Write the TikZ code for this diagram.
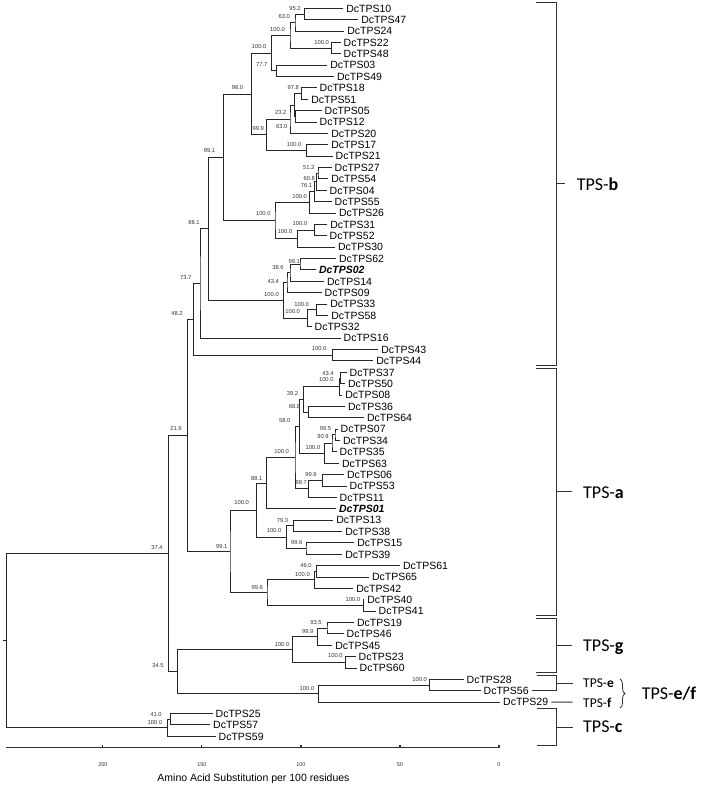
\documentclass[tikz,border=0pt]{standalone}
\usepackage{fontspec}
\setmainfont{Liberation Sans}
\newfontfamily\cladefont{Carlito}
\usetikzlibrary{decorations.pathreplacing}

\begin{document}
\begin{tikzpicture}[x=1pt, y=-1pt,
    branch/.style={line width=0.9pt, draw=black!85},
    bracket/.style={line width=0.9pt, draw=black!80},
    axisline/.style={line width=1.1pt, draw=black!80},
    leaf/.style={anchor=west, inner xsep=3pt, inner ysep=0pt, text height=7.5pt, text depth=0pt,
        font=\fontsize{10.5}{12}\selectfont},
    keyleaf/.style={leaf, font=\fontsize{10.5}{12}\selectfont\bfseries\itshape},
    boot/.style={inner sep=0pt, text height=4.2pt, text depth=0pt, text=black!80,
        font=\fontsize{5.8}{7}\selectfont},
    ticklabel/.style={inner sep=0pt, text=black!80, font=\fontsize{5.5}{6}\selectfont},
    clade/.style={anchor=west, inner sep=0pt, text height=11.6pt, text depth=0pt,
        font=\cladefont\fontsize{18}{20}\selectfont},
    subclade/.style={clade, text height=8.7pt, font=\cladefont\fontsize{13.5}{15}\selectfont}]

    \useasboundingbox (0,0) rectangle (708,787);

    % 1. Leaves (name / row / tip)
    \foreach \nm/\rw/\tp in {10/1/343.2, 47/2/358.2, 24/3/344.2, 22/4/340.5, 48/5/340.5,
        03/6/327.2, 49/7/333.8, 18/8/316.5, 51/9/308.2, 05/10/321.5, 12/11/316.5,
        20/12/328.2, 17/13/328.2, 21/14/332.5, 27/15/331.5, 54/16/328.2, 04/17/326.5,
        55/18/331.5, 26/19/335.8, 31/20/327.2, 52/21/326.5, 30/22/334.8, 62/23/335.8,
        14/25/323.8, 09/26/321.5, 33/27/327.2, 58/28/328.2, 32/29/311.5, 16/30/340.5,
        43/31/378.2, 44/32/373.2, 37/33/346.5, 50/34/344.8, 08/35/342.2, 36/36/344.8,
        64/37/363.8, 07/38/337.5, 34/39/339.8, 35/40/336.5, 63/41/338.8, 06/42/343.8,
        53/43/346.5, 11/44/336.5, 13/46/333.2, 38/47/342.2, 15/48/354.2, 39/49/342.2,
        61/50/399.8, 65/51/368.8, 42/52/353.2, 40/53/364.2, 41/54/375.5, 19/55/353.8,
        46/56/343.5, 45/57/332.2, 23/58/355.5, 60/59/356.5, 28/60/463.5, 56/61/480.5,
        29/62/500, 25/63/212.5, 57/64/210, 59/65/215.5}
        \node[leaf] (t\nm) at (\tp, {8.3+(\rw-1)*11.375}) {DcTPS\nm};
    \node[keyleaf] (t02) at (315.8, 269.93) {DcTPS02};
    \node[keyleaf] (t01) at (335.8, 508.8) {DcTPS01};

    % 2. Internal nodes
    % TPS-b
    \coordinate (a1) at (304.3,13.99);
    \coordinate (a2) at (295,22.52);
    \coordinate (a3) at (331.7,48.12);
    \coordinate (a4) at (290,35.31);
    \coordinate (a5) at (276.7,70.87);
    \coordinate (a6) at (271.7,53.09);
    \coordinate (b1) at (301.7,93.62);
    \coordinate (b2) at (295.5,116.37);
    \coordinate (b3) at (294.3,104.99);
    \coordinate (b4) at (290,119.21);
    \coordinate (b5) at (306.7,150.49);
    \coordinate (b6) at (266.5,134.85);
    \coordinate (p1) at (251.7,93.97);
    \coordinate (c1) at (318,173.24);
    \coordinate (c2) at (316.3,181.77);
    \coordinate (c3) at (314.7,191.72);
    \coordinate (c4) at (309.3,202.39);
    \coordinate (c5) at (314.3,230.12);
    \coordinate (c6) at (297.3,238.64);
    \coordinate (c7) at (275,220.52);
    \coordinate (p2) at (223.3,157.24);
    \coordinate (d1) at (300,264.24);
    \coordinate (d2) at (290,272.77);
    \coordinate (d3) at (287,282.72);
    \coordinate (d4) at (316.3,309.74);
    \coordinate (d5) at (307.7,318.27);
    \coordinate (d6) at (283.3,300.49);
    \coordinate (p3) at (208.3,228.87);
    \coordinate (p4) at (200,283.53);
    \coordinate (e1) at (332.7,355.24);
    \coordinate (p5) at (193.3,319.38);
    % TPS-a
    \coordinate (f1) at (340.5,377.99);
    \coordinate (f2) at (339.5,386.52);
    \coordinate (f3) at (308.3,412.12);
    \coordinate (f4) at (303.3,399.31);
    \coordinate (f5) at (335,434.87);
    \coordinate (f6) at (332,443.39);
    \coordinate (f7) at (324.5,453.35);
    \coordinate (f8) at (299.5,426.33);
    \coordinate (f9) at (322.7,480.37);
    \coordinate (f10) at (308.3,488.89);
    \coordinate (f11) at (295,457.61);
    \coordinate (f12) at (266.7,483.21);
    \coordinate (g1) at (293.3,525.87);
    \coordinate (g2) at (306,548.62);
    \coordinate (g3) at (286.5,537.24);
    \coordinate (g4) at (256.7,510.22);
    \coordinate (h1) at (316.7,571.37);
    \coordinate (h2) at (314.3,579.89);
    \coordinate (h3) at (363.3,605.49);
    \coordinate (h4) at (267,592.69);
    \coordinate (g5) at (230,551.46);
    \coordinate (r2) at (187.3,435.42);
    % TPS-g, TPS-e/f
    \coordinate (k1) at (327,628.24);
    \coordinate (k2) at (317.1,636.77);
    \coordinate (k3) at (345.7,662.37);
    \coordinate (k4) at (292.9,649.56);
    \coordinate (m1) at (429.6,685.12);
    \coordinate (m2) at (318.9,693.64);
    \coordinate (r3) at (177.9,671.61);
    \coordinate (r1) at (168.6,553.51);
    % TPS-c and root
    \coordinate (q1) at (170.7,719.24);
    \coordinate (q2) at (167.9,727.77);
    \coordinate (root) at (6.4,640.63);

    % 3. Branches
    \draw[branch] (t10) -| (a1) |- (t47);
    \draw[branch] (a1) -| (a2) |- (t24);
    \draw[branch] (t22) -| (a3) |- (t48);
    \draw[branch] (a2) -| (a4) |- (a3);
    \draw[branch] (t03) -| (a5) |- (t49);
    \draw[branch] (a4) -| (a6) |- (a5);
    \draw[branch] (t18) -| (b1) |- (t51);
    \draw[branch] (t05) -| (b2) |- (t12);
    \draw[branch] (b1) -| (b3) |- (b2);
    \draw[branch] (b3) -| (b4) |- (t20);
    \draw[branch] (t17) -| (b5) |- (t21);
    \draw[branch] (b4) -| (b6) |- (b5);
    \draw[branch] (a6) -| (p1) |- (b6);
    \draw[branch] (t27) -| (c1) |- (t54);
    \draw[branch] (c1) -| (c2) |- (t04);
    \draw[branch] (c2) -| (c3) |- (t55);
    \draw[branch] (c3) -| (c4) |- (t26);
    \draw[branch] (t31) -| (c5) |- (t52);
    \draw[branch] (c5) -| (c6) |- (t30);
    \draw[branch] (c4) -| (c7) |- (c6);
    \draw[branch] (p1) -| (p2) |- (c7);
    \draw[branch] (t62) -| (d1) |- (t02);
    \draw[branch] (d1) -| (d2) |- (t14);
    \draw[branch] (d2) -| (d3) |- (t09);
    \draw[branch] (t33) -| (d4) |- (t58);
    \draw[branch] (d4) -| (d5) |- (t32);
    \draw[branch] (d3) -| (d6) |- (d5);
    \draw[branch] (p2) -| (p3) |- (d6);
    \draw[branch] (p3) -| (p4) |- (t16);
    \draw[branch] (t43) -| (e1) |- (t44);
    \draw[branch] (p4) -| (p5) |- (e1);
    \draw[branch] (t37) -| (f1) |- (t50);
    \draw[branch] (f1) -| (f2) |- (t08);
    \draw[branch] (t36) -| (f3) |- (t64);
    \draw[branch] (f2) -| (f4) |- (f3);
    \draw[branch] (t07) -| (f5) |- (t34);
    \draw[branch] (f5) -| (f6) |- (t35);
    \draw[branch] (f6) -| (f7) |- (t63);
    \draw[branch] (f4) -| (f8) |- (f7);
    \draw[branch] (t06) -| (f9) |- (t53);
    \draw[branch] (f9) -| (f10) |- (t11);
    \draw[branch] (f8) -| (f11) |- (f10);
    \draw[branch] (f11) -| (f12) |- (t01);
    \draw[branch] (t13) -| (g1) |- (t38);
    \draw[branch] (t15) -| (g2) |- (t39);
    \draw[branch] (g1) -| (g3) |- (g2);
    \draw[branch] (f12) -| (g4) |- (g3);
    \draw[branch] (t61) -| (h1) |- (t65);
    \draw[branch] (h1) -| (h2) |- (t42);
    \draw[branch] (t40) -| (h3) |- (t41);
    \draw[branch] (h2) -| (h4) |- (h3);
    \draw[branch] (g4) -| (g5) |- (h4);
    \draw[branch] (p5) -| (r2) |- (g5);
    \draw[branch] (t19) -| (k1) |- (t46);
    \draw[branch] (k1) -| (k2) |- (t45);
    \draw[branch] (t23) -| (k3) |- (t60);
    \draw[branch] (k2) -| (k4) |- (k3);
    \draw[branch] (t28) -| (m1) |- (t56);
    \draw[branch] (m1) -| (m2) |- (t29);
    \draw[branch] (k4) -| (r3) |- (m2);
    \draw[branch] (r2) -| (r1) |- (r3);
    \draw[branch] (t25) -| (q1) |- (t57);
    \draw[branch] (q1) -| (q2) |- (t59);
    \draw[branch] (r1) -| (root) |- (q2);
    \draw[branch] (root) -- ++(-3.5,0);

    % 4. Bootstrap values
    \foreach \bx/\by/\bv [count=\k] in {295/8.3/95.2, 284.2/16.65/63.0, 277.5/29.16/100.0,
        321.7/42.47/100.0, 259.2/46.45/100.0, 261.7/64.63/77.7, 237.5/87.78/98.0,
        293.3/87.78/97.8, 280.8/112.61/23.2, 281.7/125.92/63.0, 258.3/128.51/99.9,
        294.2/144.8/100.0, 209.5/150.76/99.1, 308.7/167.25/51.3, 309.3/178.58/60.8,
        306.5/185.53/76.1, 299.7/196.46/100.0, 263.3/213.65/100.0, 194/222.59/88.1,
        300/223.58/100.0, 285/231.83/100.0, 294.2/261.03/99.1, 278/267.59/38.6,
        273.3/280.9/43.4, 271.5/294.12/100.0, 185.8/277.52/73.7, 177/312.99/48.2,
        301.7/304.75/100.0, 292.7/311.3/100.0, 319.2/348.46/100.0, 176/428.73/21.9,
        328/372.9/43.4, 326.3/379.85/100.0, 292.5/393.46/39.2, 294.5/406.67/68.8,
        284.7/420.58/58.0, 325.5/428.43/99.5, 323/436.87/90.9, 313/447.4/100.0,
        281.7/451.78/100.0, 311/474.43/99.9, 301.2/482.67/99.7, 256.7/477.9/88.1,
        241.7/502.74/100.0, 282.5/520.62/79.3, 274.2/530.85/100.0, 296.8/542.18/99.6,
        221.7/546.45/99.1, 306/565.33/46.0, 302.5/573.97/100.0, 257.2/587.88/99.6,
        352.8/599.4/100.0, 157/547.45/37.4, 316/622.45/93.5, 307.7/631.59/99.9,
        281.8/644.11/100.0, 335.4/655.73/100.0, 158/665.67/34.5, 419.6/679.57/100.0,
        307/688.22/100.0, 156/714.64/41.0, 155/722/100.0}
        \node[boot] (bs\k) at (\bx,\by) {\bv};

    % 5. Scale bar
    \draw[axisline] (6.4,747.5) -- (499,747.5);
    \foreach \v in {0,50,100,150,200} {
        \draw[axisline] ({499-1.9805*\v},747.5) -- ++(0,-3);
        \node[ticklabel] (ax\v) at ({499-1.9805*\v},765) {\v};
    }
    \node[font=\fontsize{10.5}{12}\selectfont] (caption) at (253.5,778.3)
        {Amino Acid Substitution per 100 residues};

    % 6. Clade brackets
    \draw[bracket] (536,2.7) -| (556.7,365) -- (536,365);
    \draw[bracket] (556.7,183.9) -- (565,183.9);
    \node[clade] (lb) at (576.7,184.5) {TPS-\textbf{b}};

    \draw[bracket] (536,368.3) -| (556.7,615.2) -- (536,615.2);
    \draw[bracket] (556.7,491.8) -- (571.7,491.8);
    \node[clade] (la) at (583,492.3) {TPS-\textbf{a}};

    \draw[bracket] (536,618.6) -| (556.7,672.1) -- (536,672.1);
    \draw[bracket] (556.7,645.4) -- (571.7,645.4);
    \node[clade] (lg) at (583,645.8) {TPS-\textbf{g}};

    \draw[bracket] (536.7,675.5) -| (556.7,690.8) -- (t56);
    \draw[bracket] (556.7,683) -- (572.7,683);
    \node[subclade] (le) at (583,683.5) {TPS-\textbf{e}};
    \draw[bracket] (t29) -- (572.7,702.1);
    \node[subclade] (lf) at (583,703) {TPS-\textbf{f}};
    \draw[bracket, line width=0.8pt, decorate, decoration={brace, amplitude=5pt}]
        (620,679) -- (620,708);
    \node[clade] (lef) at (641.7,693.5) {TPS-\textbf{e/f}};

    \draw[bracket] (536.7,708.5) -| (556.7,745.5) -- (536.7,745.5);
    \draw[bracket] (556.7,727) -- (572.7,727);
    \node[clade] (lc) at (583,726.5) {TPS-\textbf{c}};

\end{tikzpicture}
\end{document}
